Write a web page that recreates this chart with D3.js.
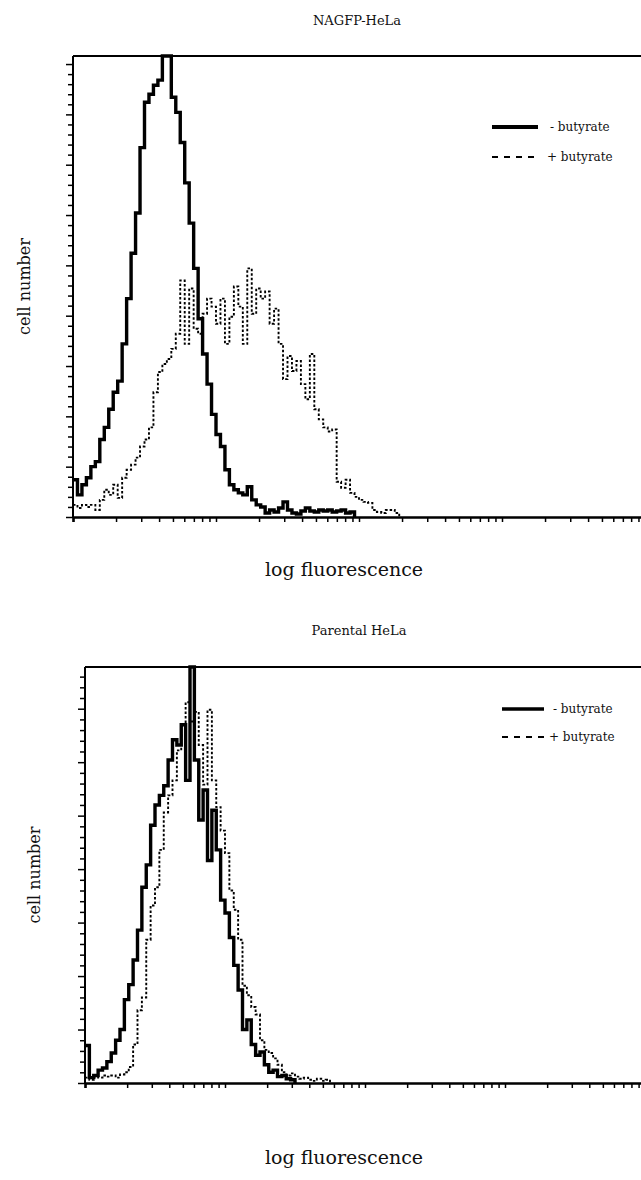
<!DOCTYPE html>
<html><head><meta charset="utf-8">
<script src="https://cdn.jsdelivr.net/npm/d3@7"></script>
<style>body{margin:0;background:#fff}svg{display:block}text{font-family:"DejaVu Serif","Liberation Serif",serif;fill:#111}</style>
</head><body>
<script>
// ---- data: counts per log-channel (32 channels per decade, starting at 10^0) ----
const binsPerDecade = 32;
const xDomain = [1, 10000];
const seriesNames = ["- butyrate", "+ butyrate"];

const panel1Title = "NAGFP-HeLa";
const panel1Minus = [37,22,32,39,50,55,77,89,107,124,135,172,217,262,302,367,412,420,429,434,460,460,417,402,372,332,292,247,197,162,132,102,82,70,47,32,27,24,22,30,17,12,10,4,7,5,9,15,7,4,3,6,9,6,5,7,6,7,5,6,7,4,5];
const panel1Plus  = [12,9,12,10,12,7,17,27,22,32,19,39,47,52,59,70,77,89,124,144,152,157,167,182,235,172,227,187,182,202,217,209,192,217,172,199,229,209,172,247,202,227,217,224,192,207,172,137,160,145,155,132,117,162,107,97,89,85,87,35,29,37,24,20,17,15,14,7,5,4,7,7,4];

const panel2Title = "Parental HeLa";
const panel2Minus = [35,5,7,12,14,20,28,40,50,78,92,115,143,183,204,241,260,269,278,302,321,316,335,283,389,302,246,274,208,255,218,171,159,136,110,87,50,59,36,26,29,17,10,12,6,7,4,3];
const panel2Plus  = [5,3,6,5,7,6,7,5,8,10,15,36,68,80,134,166,183,218,253,269,283,311,325,356,338,347,316,279,349,283,258,236,215,180,162,134,91,82,71,64,40,31,28,23,17,10,7,9,6,4,5,3,2,4,2,3];

const yTickStep = 10, yMajorEvery = 50;
const axisLabelX = "log fluorescence", axisLabelY = "cell number";

// ---- drawing ----
const W = 641, H = 1180;
const svg = d3.select("body").append("svg").attr("width", W).attr("height", H);

function panel(cfg) {
  const g = svg.append("g");
  const x = d3.scaleLog().domain(xDomain).range([cfg.left, cfg.right]);
  const y = d3.scaleLinear().domain([0, cfg.yMax]).range([cfg.bottom, cfg.top]);

  g.append("line").attr("x1", cfg.left).attr("x2", W).attr("y1", cfg.top).attr("y2", cfg.top)
    .attr("stroke", "#000").attr("stroke-width", 2);
  g.append("line").attr("x1", cfg.left).attr("x2", cfg.left).attr("y1", cfg.top).attr("y2", cfg.bottom)
    .attr("stroke", "#000").attr("stroke-width", 2);

  const xAxis = d3.axisBottom(x).tickValues(x.ticks()).tickSize(5).tickFormat("");
  const gx = g.append("g").attr("transform", `translate(0,${cfg.bottom})`).call(xAxis);
  gx.select(".domain").attr("stroke-width", 2.5);
  gx.selectAll(".tick line").attr("stroke-width", 1.5);

  const yTicks = d3.range(0, cfg.yMax + 0.01, yTickStep);
  const yAxis = d3.axisLeft(y).tickValues(yTicks).tickSizeOuter(0).tickFormat("");
  const gy = g.append("g").attr("transform", `translate(${cfg.left},0)`).call(yAxis);
  gy.select(".domain").remove();
  gy.selectAll(".tick line").attr("x2", d => (d % yMajorEvery === 0 ? -7 : -5)).attr("stroke-width", 1.5);

  const edge = i => Math.pow(10, i / binsPerDecade);
  const line = d3.line().x(d => x(d[0])).y(d => y(Math.min(d[1], cfg.yMax))).curve(d3.curveStepAfter);
  function pts(arr) {
    const p = arr.map((v, i) => [edge(i), v]);
    p.push([edge(arr.length), 0]);
    return p;
  }
  g.append("path").attr("d", line(pts(cfg.plus))).attr("fill", "none").attr("stroke", "#000")
    .attr("stroke-width", 1.9).attr("stroke-dasharray", "2.5,2");
  g.append("path").attr("d", line(pts(cfg.minus))).attr("fill", "none").attr("stroke", "#000")
    .attr("stroke-width", 3.4).attr("stroke-linejoin", "miter");

  svg.append("text").attr("x", cfg.titleX).attr("y", cfg.titleY).attr("text-anchor", "middle")
    .attr("font-size", 13).text(cfg.title);
  svg.append("text").attr("transform", `translate(${cfg.ylabX},${(cfg.top + cfg.bottom) / 2}) rotate(-90)`)
    .attr("text-anchor", "middle").attr("font-size", 16).text(axisLabelY);
  svg.append("text").attr("x", 344).attr("y", cfg.xlabY).attr("text-anchor", "middle")
    .attr("font-size", 19).text(axisLabelX);

  const L = cfg.legend;
  g.append("line").attr("x1", L.x1).attr("x2", L.x2).attr("y1", L.y1).attr("y2", L.y1)
    .attr("stroke", "#000").attr("stroke-width", L.w);
  g.append("text").attr("x", L.tx1).attr("y", L.y1 + 4).attr("font-size", 12).text(seriesNames[0]);
  g.append("line").attr("x1", L.x1).attr("x2", L.x2).attr("y1", L.y2).attr("y2", L.y2)
    .attr("stroke", "#000").attr("stroke-width", 2).attr("stroke-dasharray", "6,6");
  g.append("text").attr("x", L.tx2).attr("y", L.y2 + 4).attr("font-size", 12).text(seriesNames[1]);
}

panel({
  left: 73, right: 645, top: 56, bottom: 517, yMax: 458,
  minus: panel1Minus, plus: panel1Plus, title: panel1Title, titleX: 357, titleY: 25,
  ylabX: 30, xlabY: 576,
  legend: {x1: 492, x2: 538, y1: 127, y2: 157, w: 4, tx1: 550, tx2: 547}
});
panel({
  left: 85, right: 645, top: 667, bottom: 1083, yMax: 389,
  minus: panel2Minus, plus: panel2Plus, title: panel2Title, titleX: 359, titleY: 635,
  ylabX: 40, xlabY: 1164,
  legend: {x1: 502, x2: 544, y1: 709, y2: 737, w: 3.5, tx1: 553, tx2: 549}
});
</script>
</body></html>
